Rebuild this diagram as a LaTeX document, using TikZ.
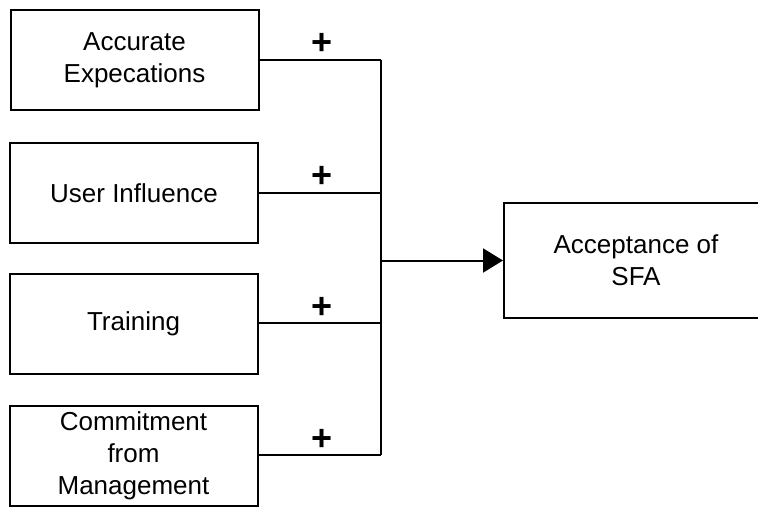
\documentclass[tikz,border=0pt]{standalone}
\usepackage{fontspec}
\setmainfont{Liberation Sans}
\usetikzlibrary{arrows.meta}
\begin{document}
\begin{tikzpicture}[x=0.5pt,y=-0.5pt,line width=1pt,
    factor/.style={draw,minimum width=124pt,minimum height=50pt,align=center,
        font=\fontsize{13}{16}\selectfont,inner sep=0pt},
    plus/.style={above,font=\fontsize{18}{18}\selectfont\bfseries,inner sep=2pt,xshift=1pt}]
                \useasboundingbox(0,0)rectangle(758,507);
                % factors on the left
                \node[factor](accurate)at(134.5,60){Accurate\\Expecations};
                \node[factor](influence)at(134,193){User Influence};
                \node[factor](training)at(133.5,323.5){Training};
                \node[factor](commitment)at(133.5,455.5){Commitment\\from\\Management};
                % outcome
                \node[factor,minimum width=133pt,minimum height=57.5pt](acceptance)at(637,260.5){};
                \node[font=\fontsize{13}{16}\selectfont,align=center](acclabel)at(636,260.5){Acceptance of\\SFA};
                % junctions on the bus
                \coordinate(j1)at(381,60);
                \coordinate(j2)at(381,193);
                \coordinate(j3)at(381,323);
                \coordinate(j4)at(381,455);
                \coordinate(jm)at(381,260.5);
                \draw(accurate.east|-j1)--node[plus]{+}(j1);
                \draw(influence.east|-j2)--node[plus]{+}(j2);
                \draw(training.east|-j3)--node[plus]{+}(j3);
                \draw(commitment.east|-j4)--node[plus]{+}(j4);
                \draw(j1)--(j4);
                \draw[-{Triangle[length=10pt,width=12pt]}](jm)--(acceptance.west|-jm);
            \end{tikzpicture}
\end{document}
